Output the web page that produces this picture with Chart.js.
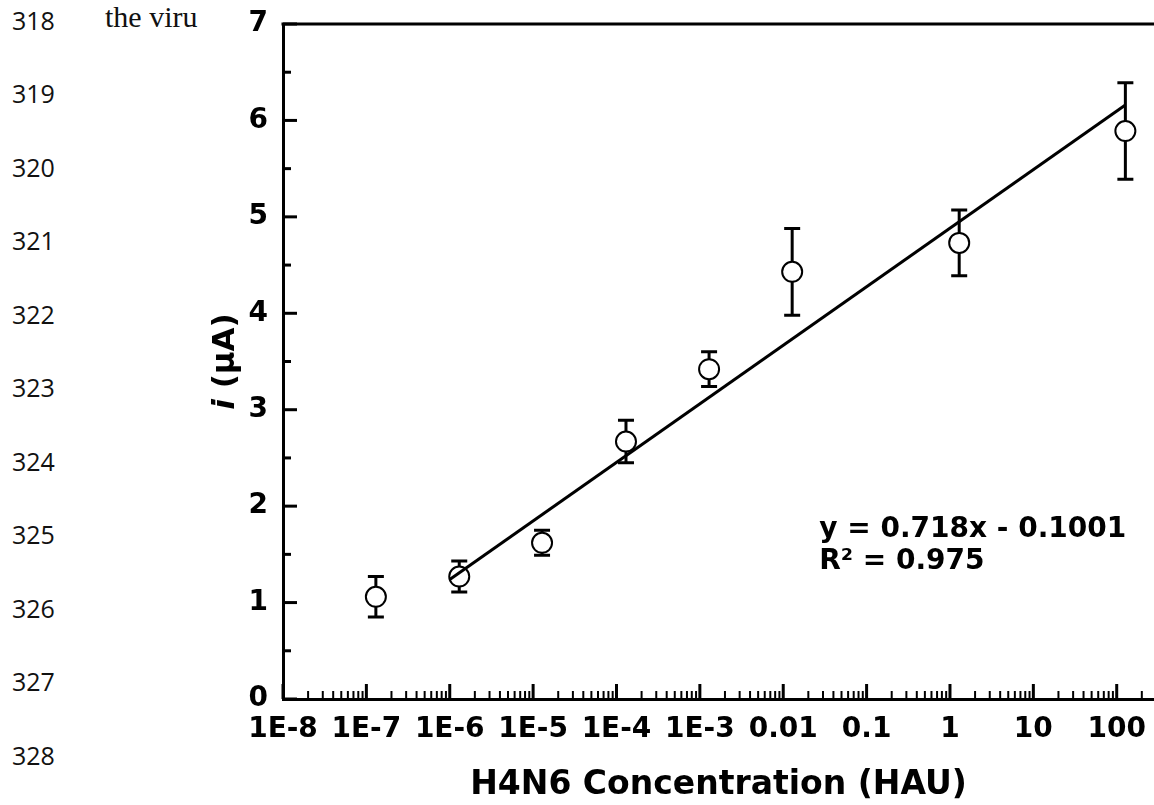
<!DOCTYPE html>
<html>
<head>
<meta charset="utf-8">
<script src="https://cdn.jsdelivr.net/npm/chart.js@4.4.1/dist/chart.umd.min.js"></script>
<style>
  body { margin: 0; background: #fff; width: 1154px; height: 805px; overflow: hidden; position: relative; }
  .num { position: absolute; left: 12px; font: 25px "Open Sans", sans-serif; line-height: 30px; color: #111; }
  #prose { position: absolute; left: 105px; top: -1px; font: 30px "Liberation Serif", serif; line-height: 36px; color: #111; white-space: nowrap; }
  #wrap { position: absolute; left: 198px; top: 0; width: 956px; height: 805px; background: #fff; }
</style>
</head>
<body>
<div id="prose">the virus</div>
<div id="wrap"><canvas id="c"></canvas></div>
<script>
// values
const xValues = [1.3e-7, 1.3e-6, 1.28e-5, 1.3e-4, 1.29e-3, 0.0128, 1.29, 127];
const yMeans  = [1.06, 1.27, 1.62, 2.67, 3.42, 4.43, 4.73, 5.89];
const yErrors = [0.21, 0.16, 0.13, 0.22, 0.18, 0.45, 0.34, 0.50];

const fitX = [1.0e-6, 127];
const fitY = [1.24, 6.16];

const xTickValues = [1e-8, 1e-7, 1e-6, 1e-5, 1e-4, 1e-3, 0.01, 0.1, 1, 10, 100];
const xTickLabels = ['1E-8', '1E-7', '1E-6', '1E-5', '1E-4', '1E-3', '0.01', '0.1', '1', '10', '100'];
const yTickValues = [0, 1, 2, 3, 4, 5, 6, 7];
const xMin = 1e-8, xMax = 280;

const eqLines = ['y = 0.718x - 0.1001', 'R\u00b2 = 0.975'];
const eqX = 0.027;
const eqY = [1.76, 1.42];

const lineNumbers = [318, 319, 320, 321, 322, 323, 324, 325, 326, 327, 328];

lineNumbers.forEach((n, i) => {
    const d = document.createElement('div');
    d.className = 'num';
    d.textContent = n;
    d.style.top = (20.5 + 73.5 * i - 16) + 'px';
    document.body.appendChild(d);
});

const FONT = '"DejaVu Sans", sans-serif';

const axisDecor = {
    id: 'axisDecor',
    beforeDatasetsDraw(chart) {
        const { ctx, scales: { x, y } } = chart;
        ctx.save();
        ctx.strokeStyle = '#000';
        ctx.lineWidth = 3;
        xValues.forEach((xv, i) => {
            const px = x.getPixelForValue(xv);
            const top = y.getPixelForValue(yMeans[i] + yErrors[i]);
            const bot = y.getPixelForValue(yMeans[i] - yErrors[i]);
            ctx.beginPath();
            ctx.moveTo(px, top); ctx.lineTo(px, bot);
            ctx.moveTo(px - 8, top); ctx.lineTo(px + 8, top);
            ctx.moveTo(px - 8, bot); ctx.lineTo(px + 8, bot);
            ctx.stroke();
        });
        ctx.restore();
    },
    afterDraw(chart) {
        const { ctx, chartArea: area, scales: { x, y } } = chart;
        ctx.save();
        ctx.strokeStyle = '#000';

        // top frame line
        ctx.lineWidth = 3;
        ctx.beginPath();
        ctx.moveTo(area.left - 1.5, area.top);
        ctx.lineTo(area.right, area.top);
        ctx.stroke();

        // inward ticks, y
        yTickValues.forEach(v => {
            const py = y.getPixelForValue(v);
            ctx.beginPath(); ctx.moveTo(area.left, py); ctx.lineTo(area.left + 14, py); ctx.stroke();
            if (v < 7) {
                const pm = y.getPixelForValue(v + 0.5);
                ctx.beginPath(); ctx.moveTo(area.left, pm); ctx.lineTo(area.left + 8, pm); ctx.stroke();
            }
        });

        // inward ticks, x (decades + minor)
        xTickValues.forEach(v => {
            const px = x.getPixelForValue(v);
            ctx.lineWidth = 3;
            ctx.beginPath(); ctx.moveTo(px, area.bottom); ctx.lineTo(px, area.bottom - 15); ctx.stroke();
            ctx.lineWidth = 2;
            for (let m = 2; m <= 9; m++) {
                const mv = m * v;
                if (mv > xMax) break;
                const pm = x.getPixelForValue(mv);
                ctx.beginPath(); ctx.moveTo(pm, area.bottom); ctx.lineTo(pm, area.bottom - 8); ctx.stroke();
            }
        });

        // y axis title: i (μA)
        ctx.fillStyle = '#000';
        ctx.translate(area.left - 49, (area.top + area.bottom) / 2);
        ctx.rotate(-Math.PI / 2);
        ctx.textBaseline = 'alphabetic';
        const f1 = 'italic bold 31px ' + FONT;
        const f2 = 'bold 31px ' + FONT;
        ctx.font = f1; const w1 = ctx.measureText('i').width;
        ctx.font = f2; const w2 = ctx.measureText(' (\u03bcA)').width;
        const start = -(w1 + w2) / 2;
        ctx.font = f1; ctx.fillText('i', start, 0);
        ctx.font = f2; ctx.fillText(' (\u03bcA)', start + w1, 0);
        ctx.restore();

        // regression equation
        ctx.save();
        ctx.fillStyle = '#000';
        ctx.font = 'bold 28px ' + FONT;
        ctx.textBaseline = 'middle';
        eqLines.forEach((t, i) => {
            ctx.fillText(t, x.getPixelForValue(eqX), y.getPixelForValue(eqY[i]));
        });
        ctx.restore();
    }
};

new Chart(document.getElementById('c'), {
    data: {
        datasets: [
            {
                type: 'line',
                data: fitX.map((v, i) => ({ x: v, y: fitY[i] })),
                borderColor: '#000',
                borderWidth: 3,
                pointRadius: 0,
                fill: false,
                order: 0
            },
            {
                type: 'scatter',
                data: xValues.map((v, i) => ({ x: v, y: yMeans[i] })),
                pointRadius: 10,
                pointBorderWidth: 2,
                pointBackgroundColor: '#fff',
                pointBorderColor: '#000',
                order: 1
            }
        ]
    },
    options: {
        responsive: true,
        maintainAspectRatio: false,
        animation: false,
        layout: { autoPadding: false, padding: { top: 24, left: 0, right: 0, bottom: 0 } },
        plugins: { legend: { display: false }, tooltip: { enabled: false } },
        scales: {
            x: {
                type: 'logarithmic',
                min: xMin,
                max: xMax,
                afterBuildTicks: s => { s.ticks = xTickValues.map(v => ({ value: v })); },
                afterFit: s => { s.height = 106; s.paddingLeft = 0; s.paddingRight = 0; },
                grid: { display: false, drawTicks: false },
                border: { display: true, color: '#000', width: 3 },
                ticks: {
                    autoSkip: false,
                    maxRotation: 0,
                    padding: 14,
                    color: '#000',
                    font: { family: FONT, size: 28, weight: 'bold' },
                    callback: (v, i) => xTickLabels[i]
                },
                title: {
                    display: true,
                    text: 'H4N6 Concentration (HAU)',
                    color: '#000',
                    font: { family: FONT, size: 33, weight: 'bold' },
                    padding: { top: 0, bottom: 0 }
                }
            },
            y: {
                min: 0,
                max: 7,
                afterBuildTicks: s => { s.ticks = yTickValues.map(v => ({ value: v })); },
                afterFit: s => { s.width = 85; s.paddingTop = 0; s.paddingBottom = 0; },
                grid: { display: false, drawTicks: false },
                border: { display: true, color: '#000', width: 3 },
                ticks: {
                    padding: 15,
                    color: '#000',
                    font: { family: FONT, size: 28, weight: 'bold' }
                }
            }
        }
    },
    plugins: [axisDecor]
});
</script>
</body>
</html>
